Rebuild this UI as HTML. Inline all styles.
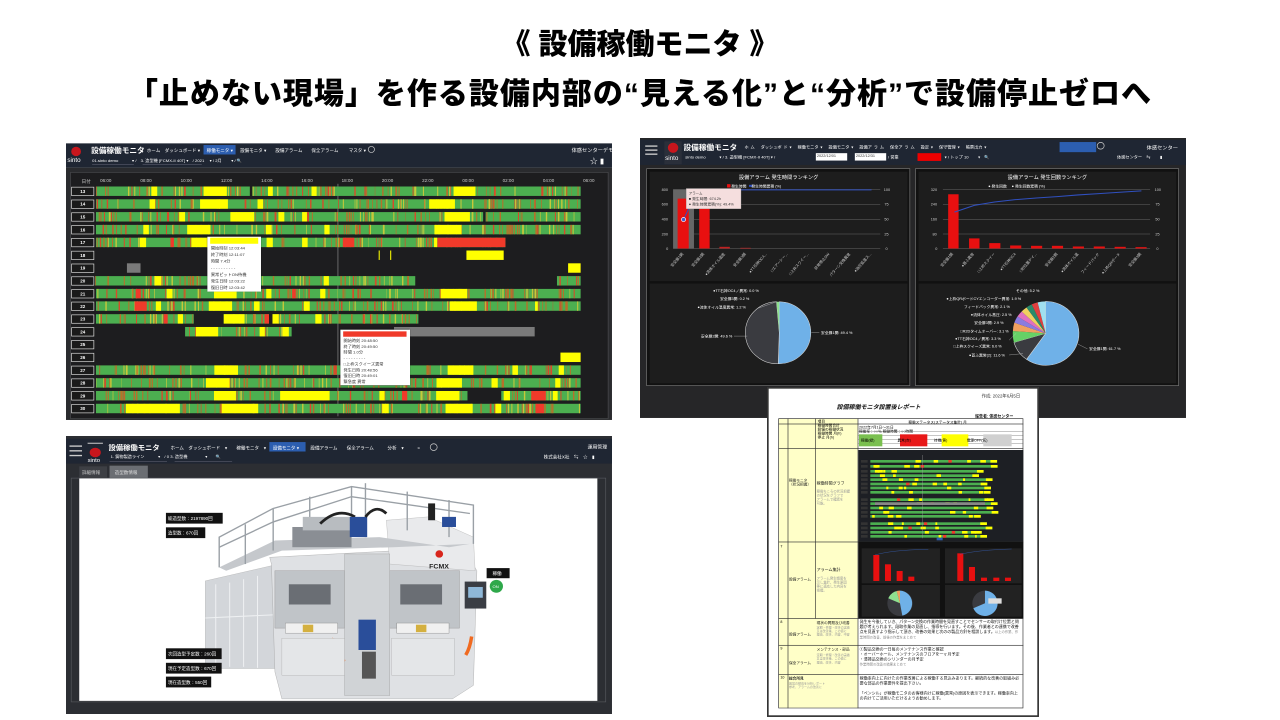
<!DOCTYPE html>
<html><head><meta charset="utf-8">
<style>
*{margin:0;padding:0;box-sizing:border-box}
body{width:1280px;height:720px;background:#fff;position:relative;overflow:hidden;font-family:"Liberation Sans","Noto Sans CJK JP",sans-serif}
.t{position:absolute;left:0;width:1280px;text-align:center;font-weight:900;color:#000;font-family:"Liberation Sans","Noto Sans CJK JP",sans-serif}
.pan{position:absolute;overflow:hidden}
.inner{position:absolute;left:0;top:0;transform-origin:0 0}
.a{position:absolute}
.w{color:#fff;white-space:nowrap}
</style></head><body>
<div class="t" style="top:27px;font-size:29px;line-height:36px">《 設備稼働モニタ 》</div>
<div class="t" style="top:76px;font-size:30px;line-height:38px;letter-spacing:1px">「止めない現場」を作る設備内部の“見える化”と“分析”で設備停止ゼロへ</div>

<!-- Panel 1 -->
<div class="pan" style="left:66px;top:140px;width:546px;height:280px">
<div class="inner" id="p1" style="width:1568px;height:831px;transform:scale(0.3482,0.3369)">
 <div class="a" style="left:0;top:10px;width:1568px;height:72px;background:#1f2633"></div>
 <div class="a" style="left:15px;top:20px;width:28px;height:28px;border-radius:50%;background:#c8161d"></div>
 <div class="a w" style="left:4px;top:50px;font-size:18px">sinto</div>
 <div class="a w" style="left:72px;top:14px;font-size:22px;font-weight:bold">設備稼働モニタ</div>
 <div class="a w" style="left:232px;top:20px;font-size:13px">ホーム　ダッシュボード ▾</div>
 <div class="a" style="left:395px;top:15px;width:92px;height:28px;background:#2c5eb0"></div>
 <div class="a w" style="left:404px;top:20px;font-size:13px">稼働モニタ ▾</div>
 <div class="a w" style="left:500px;top:20px;font-size:13px">設備モニタ ▾　　設備アラーム　　保全アラーム　　 マスタ ▾</div>
 <div class="a" style="left:867px;top:18px;width:20px;height:20px;border:2px solid #ccc;border-radius:50%"></div>
 <div class="a w" style="left:1452px;top:20px;font-size:15px">体感センターデモ</div>
 <div class="a w" style="left:75px;top:52px;font-size:12px">01.sinto demo　　　 ▾ /　3. 造型機 [FCMX-II 40T] ▾　/ 2021　 ▾ / 2月　　 ▾ / 🔍</div>
 <div class="a" style="left:75px;top:72px;width:120px;height:1px;background:#889"></div>
 <div class="a" style="left:220px;top:72px;width:170px;height:1px;background:#889"></div>
 <div class="a w" style="left:1505px;top:45px;font-size:22px">☆ ▮</div>
 <div class="a" style="left:0;top:82px;width:1568px;height:749px;background:#2a2b2e"></div>
 <div class="a" style="left:12px;top:95px;width:1546px;height:733px;background:#1d1d1f;border:2px solid #4a4b4e"></div>
 <div class="a" style="left:780px;top:130px;width:2px;height:690px;background:#888"></div>
</div></div>

<!-- Panel 2 -->
<div class="pan" style="left:640px;top:138px;width:546px;height:280px">
<div class="inner" style="width:1568px;height:831px;transform:scale(0.3482,0.3369)">
 <div class="a" style="left:0;top:0;width:1568px;height:831px;background:#262628"></div>
 <div class="a" style="left:0;top:5px;width:1568px;height:75px;background:#1f2633"></div>
 <div class="a" style="left:15px;top:22px;width:35px;height:4px;background:#ccc;box-shadow:0 12px 0 #ccc,0 24px 0 #ccc"></div>
 <div class="a" style="left:70px;top:10px;width:50px;height:68px;background:#2a2f3a"></div>
 <div class="a" style="left:80px;top:14px;width:30px;height:30px;border-radius:50%;background:#c8161d"></div>
 <div class="a w" style="left:72px;top:50px;font-size:18px">sinto</div>
 <div class="a w" style="left:125px;top:10px;font-size:22px;font-weight:bold">設備稼働モニタ</div>
 <div class="a w" style="left:300px;top:18px;font-size:12px;word-spacing:2px">ホ ム　 ダッシュボ ド ▾　 稼働モニタ ▾　 設備モニタ ▾　 設備ア ラ ム　 保全ア ラ ム　 設定 ▾　 保守管理 ▾　 帳票出力 ▾</div>
 <div class="a" style="left:1205px;top:12px;width:105px;height:30px;background:#2c5eb0"></div>
 <div class="a" style="left:1312px;top:12px;width:22px;height:22px;border:2px solid #ccc;border-radius:50%"></div>
 <div class="a w" style="left:1455px;top:18px;font-size:15px">体感センター</div>
 <div class="a w" style="left:130px;top:48px;font-size:12px">sinto demo　　　 ▾ / 3. 造型機 [FCMX-II 40T] ▾ /</div>
 <div class="a" style="left:505px;top:45px;width:90px;height:22px;background:#fff;font-size:11px;color:#333;padding:3px">2022/12/01</div>
 <div class="a" style="left:617px;top:45px;width:90px;height:22px;background:#fff;font-size:11px;color:#333;padding:3px">2022/12/31</div>
 <div class="a w" style="left:712px;top:48px;font-size:12px">/ 営業</div>
 <div class="a" style="left:797px;top:45px;width:68px;height:23px;background:#e00"></div>
 <div class="a w" style="left:875px;top:48px;font-size:12px">▾ / トップ 10　　 ▾　🔍</div>
 <div class="a w" style="left:1370px;top:48px;font-size:12px">体感センター　⇆　　 ▮</div>
 <div class="a" style="left:18px;top:90px;width:758px;height:646px;border:2px solid #777;background:#111"></div>
 <div class="a" style="left:790px;top:90px;width:758px;height:646px;border:2px solid #777;background:#111"></div>
 <div class="a" style="left:28px;top:100px;width:740px;height:325px;background:#1d1d1d"></div>
 <div class="a" style="left:800px;top:100px;width:740px;height:325px;background:#1d1d1d"></div>
 <div class="a" style="left:28px;top:432px;width:740px;height:296px;background:#1d1d1d"></div>
 <div class="a" style="left:800px;top:432px;width:740px;height:296px;background:#1d1d1d"></div>
 <div class="a w" style="left:28px;width:740px;text-align:center;top:106px;font-size:15px">設備アラーム 発生時間ランキング</div>
 <div class="a w" style="left:800px;width:740px;text-align:center;top:106px;font-size:15px">設備アラーム 発生回数ランキング</div>
 <svg class="a" style="left:0;top:0" width="1568" height="831">
  <g stroke="#666" stroke-width="1.5">
   <line x1="95" y1="153" x2="690" y2="153"/><line x1="95" y1="197" x2="690" y2="197"/><line x1="95" y1="241" x2="690" y2="241"/><line x1="95" y1="285" x2="690" y2="285"/><line x1="95" y1="328" x2="690" y2="328"/>
   <line x1="870" y1="153" x2="1465" y2="153"/><line x1="870" y1="197" x2="1465" y2="197"/><line x1="870" y1="241" x2="1465" y2="241"/><line x1="870" y1="285" x2="1465" y2="285"/><line x1="870" y1="328" x2="1465" y2="328"/>
  </g>
  <rect x="95" y="153" width="60" height="175" fill="#666"/>
  <rect x="108" y="180" width="32" height="148" fill="#e81010"/>
  <rect x="170" y="200" width="30" height="128" fill="#e81010"/>
  <rect x="228" y="323" width="30" height="5" fill="#c02020"/>
  <rect x="288" y="326" width="30" height="2" fill="#c02020"/>
  <polyline points="125,242 165,155 240,154 665,154" fill="none" stroke="#3050c0" stroke-width="3"/>
  <circle cx="125" cy="242" r="6" fill="#3b5bd0" stroke="#fff" stroke-width="2"/>
  <rect x="133" y="150" width="157" height="60" fill="#f5dede" stroke="#aaa"/>
  <text x="140" y="168" font-size="10" fill="#333">アラーム</text>
  <text x="140" y="184" font-size="11" fill="#333">■ 発生時間: 674.2h</text>
  <text x="140" y="200" font-size="11" fill="#333">● 発生時間累積(%): 49.4%</text>
  <rect x="250" y="137" width="10" height="10" fill="#e81010"/><rect x="313" y="139" width="10" height="6" fill="#3050c0"/>
  <text x="262" y="147" font-size="11" fill="#fff">発生時間　 発生時間累積 (%)</text>
  <rect x="885" y="167" width="30" height="161" fill="#e81010"/>
  <rect x="945" y="298" width="30" height="30" fill="#e81010"/>
  <rect x="1003" y="312" width="32" height="16" fill="#e81010"/>
  <rect x="1063" y="319" width="32" height="9" fill="#e81010"/>
  <rect x="1123" y="320" width="32" height="8" fill="#e81010"/>
  <rect x="1183" y="320" width="32" height="8" fill="#e81010"/>
  <rect x="1243" y="322" width="32" height="6" fill="#e81010"/>
  <rect x="1303" y="322" width="32" height="6" fill="#e81010"/>
  <rect x="1363" y="323" width="32" height="5" fill="#e81010"/>
  <rect x="1423" y="324" width="32" height="4" fill="#e81010"/>
  <polyline points="903,220 960,200 1018,190 1078,183 1138,178 1198,174 1258,169 1318,165 1378,161 1440,157" fill="none" stroke="#3050c0" stroke-width="3"/>
  <text x="1000" y="147" font-size="11" fill="#fff">● 発生回数　 ● 発生回数累積 (%)</text>
  <g font-size="11" fill="#ccc">
   <text x="62" y="157">800</text><text x="62" y="201">600</text><text x="62" y="245">400</text><text x="62" y="289">200</text><text x="75" y="332">0</text>
   <text x="700" y="157">100</text><text x="702" y="201">75</text><text x="702" y="245">50</text><text x="702" y="289">25</text><text x="705" y="332">0</text>
   <text x="835" y="157">320</text><text x="835" y="201">240</text><text x="835" y="245">160</text><text x="840" y="289">80</text><text x="848" y="332">0</text>
   <text x="1478" y="157">100</text><text x="1480" y="201">75</text><text x="1480" y="245">50</text><text x="1480" y="289">25</text><text x="1483" y="332">0</text>
  </g>
  <g font-size="11" fill="#ccc">
   <text transform="translate(125,345) rotate(-50)" text-anchor="end">安全扉1開</text>
   <text transform="translate(185,345) rotate(-50)" text-anchor="end">安全扉2開</text>
   <text transform="translate(245,345) rotate(-50)" text-anchor="end">●流体オイル温度</text>
   <text transform="translate(305,345) rotate(-50)" text-anchor="end">安全扉3開</text>
   <text transform="translate(365,345) rotate(-50)" text-anchor="end">●TT石神OC4...</text>
   <text transform="translate(425,345) rotate(-50)" text-anchor="end">□エアーシー...</text>
   <text transform="translate(485,345) rotate(-50)" text-anchor="end">□上枠スクイー...</text>
   <text transform="translate(545,345) rotate(-50)" text-anchor="end">非常停止SW</text>
   <text transform="translate(605,345) rotate(-50)" text-anchor="end">パターン交換異常</text>
   <text transform="translate(665,345) rotate(-50)" text-anchor="end">●油圧低温ス...</text>
   <text transform="translate(900,345) rotate(-50)" text-anchor="end">安全扉1開</text>
   <text transform="translate(960,345) rotate(-50)" text-anchor="end">●首ふ異常</text>
   <text transform="translate(1020,345) rotate(-50)" text-anchor="end">□上枠スクイー</text>
   <text transform="translate(1080,345) rotate(-50)" text-anchor="end">●TT石神OC4</text>
   <text transform="translate(1140,345) rotate(-50)" text-anchor="end">□砂位置ゲイ...</text>
   <text transform="translate(1200,345) rotate(-50)" text-anchor="end">安全扉2開</text>
   <text transform="translate(1260,345) rotate(-50)" text-anchor="end">●流体オイル温</text>
   <text transform="translate(1320,345) rotate(-50)" text-anchor="end">フィードバック</text>
   <text transform="translate(1380,345) rotate(-50)" text-anchor="end">●上枠QRボード</text>
   <text transform="translate(1440,345) rotate(-50)" text-anchor="end">安全扉3開</text>
  </g>
  <path d="M400,578 L400,486 A92,92 0 1,1 397,670 Z" fill="#6fb1e8" stroke="#ddd" stroke-width="1.5"/>
  <path d="M400,578 L397,670 A92,92 0 0,1 392,486 Z" fill="#3a3b40" stroke="#ddd" stroke-width="1.5"/>
  <path d="M400,578 L392,486 A92,92 0 0,1 400,486 Z" fill="#8fe08f"/>
  <g font-size="11" fill="#fff">
   <text x="520" y="582">安全扉1開: 49.4 %</text><text x="175" y="592">安全扉2開: 49.6 %</text>
   <text x="210" y="457">●TT石神OC4ノ異常: 0.0 %</text><text x="230" y="481">安全扉3開: 0.2 %</text><text x="165" y="506">●流体オイル温度異常: 1.2 %</text>
  </g>
  <g stroke="#ccc" fill="none"><line x1="492" y1="578" x2="515" y2="578"/><line x1="270" y1="588" x2="308" y2="588"/><line x1="340" y1="505" x2="392" y2="486"/></g>
  <path d="M1165,580 L1165,485 A95,95 0 1,1 1110,657 Z" fill="#6fb1e8" stroke="#ddd" stroke-width="1.5"/>
  <path d="M1165,580 L1110,657 A95,95 0 0,1 1074,607 Z" fill="#3a3b40" stroke="#ddd" stroke-width="1.5"/>
  <path d="M1165,580 L1074,607 A95,95 0 0,1 1071,573 Z" fill="#66d166"/>
  <path d="M1165,580 L1071,573 A95,95 0 0,1 1075,548 Z" fill="#f0a060"/>
  <path d="M1165,580 L1075,548 A95,95 0 0,1 1084,530 Z" fill="#8a7ce0"/>
  <path d="M1165,580 L1084,530 A95,95 0 0,1 1096,515 Z" fill="#e070c0"/>
  <path d="M1165,580 L1096,515 A95,95 0 0,1 1110,503 Z" fill="#f0d060"/>
  <path d="M1165,580 L1110,503 A95,95 0 0,1 1125,494 Z" fill="#2a8a6a"/>
  <path d="M1165,580 L1125,494 A95,95 0 0,1 1142,488 Z" fill="#e04040"/>
  <path d="M1165,580 L1142,488 A95,95 0 0,1 1165,485 Z" fill="#a0e0f0"/>
  <g font-size="11" fill="#fff">
   <text x="1290" y="630">安全扉1開: 61.7 %</text><text x="945" y="648">●首ふ異常(2): 11.6 %</text><text x="900" y="622">□上枠スクイーズ異常: 6.0 %</text>
   <text x="905" y="600">●TT石神OC4ノ異常: 3.3 %</text><text x="920" y="578">□R2Dタイムオーバー: 3.1 %</text><text x="960" y="552">安全扉3開: 2.9 %</text>
   <text x="950" y="528">●流体オイル高圧: 2.5 %</text><text x="930" y="505">フィードバック異常: 2.1 %</text><text x="880" y="481">●上枠QRボードCYエンコーダー異常: 1.9 %</text><text x="1080" y="457">その他: 5.2 %</text>
  </g>
  <g stroke="#ccc"><line x1="1258" y1="612" x2="1285" y2="626"/><line x1="1060" y1="644" x2="1100" y2="640"/><line x1="1060" y1="600" x2="1080" y2="580"/></g>
 </svg>
</div></div>

<!-- Panel 3 -->
<div class="pan" style="left:66px;top:436px;width:546px;height:278px">
<div class="inner" style="width:1568px;height:825px;transform:scale(0.3482,0.3370)">
 <div class="a" style="left:0;top:0;width:1568px;height:825px;background:#2c2e33"></div>
 <div class="a" style="left:0;top:8px;width:1568px;height:74px;background:#1f2633"></div>
 <div class="a" style="left:10px;top:28px;width:36px;height:4px;background:#ccc;box-shadow:0 14px 0 #ccc,0 28px 0 #ccc"></div>
 <div class="a" style="left:62px;top:20px;width:44px;height:3px;background:#ccc"></div>
 <div class="a" style="left:68px;top:35px;width:32px;height:28px;border-radius:50%;background:#c8161d"></div>
 <div class="a w" style="left:62px;top:62px;font-size:17px">sinto</div>
 <div class="a w" style="left:122px;top:18px;font-size:21px;font-weight:bold">設備稼働モニタ</div>
 <div class="a w" style="left:300px;top:25px;font-size:13px;word-spacing:10px">ホーム　ダッシュボード ▾　 稼働モニタ ▾</div>
 <div class="a" style="left:584px;top:18px;width:104px;height:28px;background:#2c5eb0"></div>
 <div class="a w" style="left:594px;top:25px;font-size:13px">設備モニタ ▾</div>
 <div class="a w" style="left:702px;top:25px;font-size:13px;word-spacing:10px">設備アラーム　 保全アラーム　　 分析 ▾　　 »</div>
 <div class="a" style="left:1045px;top:22px;width:22px;height:22px;border:2px solid #ccc;border-radius:50%"></div>
 <div class="a w" style="left:1498px;top:22px;font-size:14px">運用管理</div>
 <div class="a w" style="left:128px;top:52px;font-size:12px">1. 鋳物製造ライン　　　 ▾　/ 0 3. 造型機　　　　 ▾　　🔍</div>
 <div class="a" style="left:125px;top:76px;width:165px;height:1px;background:#889"></div>
 <div class="a" style="left:312px;top:76px;width:165px;height:1px;background:#889"></div>
 <div class="a w" style="left:1372px;top:52px;font-size:13px">株式会社X社　⇆　☆　▮</div>
 <div class="a" style="left:38px;top:90px;width:80px;height:33px;background:#3d3f44"></div>
 <div class="a w" style="left:46px;top:98px;font-size:13px;color:#ccc">詳細情報</div>
 <div class="a" style="left:125px;top:88px;width:110px;height:37px;background:#6b6e73"></div>
 <div class="a w" style="left:140px;top:98px;font-size:13px;color:#ddd">造型数情報</div>
 <div class="a" style="left:14px;top:124px;width:1537px;height:666px;border:2px solid #55575c"></div>
 <div class="a" style="left:38px;top:126px;width:1488px;height:660px;background:#fff"></div>
 <svg class="a" style="left:0;top:0" width="1568" height="825">
  <polygon points="400,430 590,385 610,385 610,690 420,690 400,680" fill="#d3d6da" stroke="#aaa"/>
  <g stroke="#eef0f2" stroke-width="3"><line x1="430" y1="440" x2="430" y2="680"/><line x1="470" y1="435" x2="470" y2="685"/><line x1="510" y1="425" x2="510" y2="685"/><line x1="550" y1="415" x2="550" y2="688"/><line x1="400" y1="540" x2="610" y2="530"/></g>
  <polygon points="585,360 1140,330 1180,400 1170,740 1110,780 620,780 600,700 590,380" fill="#dfe1e4" stroke="#999"/>
  <polygon points="920,250 1040,240 1170,300 1175,400 930,380" fill="#e9eaec" stroke="#aaa"/>
  <polygon points="440,390 600,310 900,300 1100,330 1160,320 940,330 620,340 460,400" fill="#c5c8cc"/>
  <g stroke="#9aa0a6" stroke-width="4" fill="none">
   <polyline points="440,390 440,300 595,215 820,150 1170,205 1170,320"/>
   <polyline points="440,330 595,255 820,180 1160,230"/>
   <line x1="515" y1="262" x2="515" y2="380"/><line x1="595" y1="215" x2="595" y2="340"/><line x1="700" y1="180" x2="700" y2="320"/><line x1="820" y1="150" x2="820" y2="300"/><line x1="860" y1="140" x2="860" y2="300"/><line x1="980" y1="165" x2="980" y2="280"/><line x1="1100" y1="190" x2="1100" y2="300"/>
  </g>
  <rect x="650" y="270" width="170" height="60" fill="#8a8e94"/>
  <rect x="680" y="240" width="150" height="40" fill="#b8bcc0"/>
  <path d="M730,260 Q780,210 830,240" stroke="#222" stroke-width="8" fill="none"/>
  <rect x="815" y="240" width="50" height="60" fill="#2a4e9a"/>
  <path d="M860,240 Q890,200 920,230" stroke="#222" stroke-width="8" fill="none"/>
  <rect x="1040" y="200" width="20" height="50" fill="#222"/>
  <rect x="1080" y="240" width="40" height="30" fill="#2a4e9a"/>
  <rect x="600" y="400" width="200" height="170" fill="#c0c4c8" stroke="#888"/>
  <rect x="930" y="400" width="200" height="170" fill="#c0c4c8" stroke="#888"/>
  <rect x="640" y="440" width="120" height="60" fill="#6a6e74"/>
  <rect x="960" y="440" width="120" height="60" fill="#6a6e74"/>
  <rect x="630" y="555" width="150" height="30" fill="#f0f0f0" stroke="#777"/>
  <rect x="950" y="555" width="150" height="30" fill="#f0f0f0" stroke="#777"/>
  <rect x="680" y="560" width="30" height="22" fill="#d4b040"/><rect x="1005" y="560" width="30" height="22" fill="#d4b040"/>
  <rect x="800" y="350" width="130" height="420" fill="#d0d3d6" stroke="#999"/>
  <rect x="840" y="545" width="50" height="90" fill="#2a4e9a"/>
  <rect x="850" y="640" width="40" height="80" fill="#555"/>
  <path d="M770,600 Q760,650 800,670" stroke="#f06a20" stroke-width="12" fill="none"/>
  <path d="M1165,595 Q1160,630 1148,650" stroke="#f06a20" stroke-width="10" fill="none"/>
  <rect x="1145" y="432" width="62" height="80" fill="#3a3d44"/>
  <rect x="1155" y="448" width="42" height="32" fill="#8fb8d8"/>
  <rect x="620" y="600" width="180" height="110" fill="#e4e6e8" stroke="#aaa"/>
  <rect x="935" y="600" width="180" height="110" fill="#e4e6e8" stroke="#aaa"/>
  <circle cx="1072" cy="350" r="11" fill="#d8261c"/>
  <text x="1043" y="393" font-size="20" font-weight="bold" fill="#222">FCMX</text>
  <rect x="1208" y="392" width="66" height="30" fill="#111"/>
  <text x="1225" y="413" font-size="13" fill="#fff">稼働</text>
  <circle cx="1236" cy="446" r="19" fill="#2ea84a"/>
  <text x="1225" y="451" font-size="12" fill="#fff">ON</text>
  <g font-size="13" fill="#fff">
   <rect x="287" y="228" width="163" height="32" fill="#111"/><text x="293" y="250">総造型数：2197890回</text>
   <rect x="287" y="271" width="113" height="32" fill="#111"/><text x="293" y="293">造型数：670回</text>
   <rect x="287" y="630" width="160" height="32" fill="#111"/><text x="293" y="652">次回造型予定数：260回</text>
   <rect x="287" y="673" width="160" height="32" fill="#111"/><text x="293" y="695">現在予定造型数：670回</text>
   <rect x="287" y="714" width="130" height="32" fill="#111"/><text x="293" y="736">現在造型数：550回</text>
  </g>
 </svg>
</div></div>

<!-- Panel 4 report -->
<div class="pan" style="left:765px;top:385px;width:276px;height:334px">
<div class="inner" style="width:828px;height:1002px;transform:scale(0.3333)">
 <div class="a" style="left:6px;top:6px;width:816px;height:990px;background:#fff;border:5px solid #333"></div>
 <div class="a" style="left:650px;top:22px;font-size:13px;color:#333">作成: 2022年6月5日</div>
 <div class="a" style="left:215px;top:52px;font-size:18px;font-weight:bold;font-style:italic;color:#111">設備稼働モニタ設置後レポート</div>
 <div class="a" style="left:630px;top:85px;font-size:12px;font-weight:bold;color:#111">報告者: 体感センター</div>
 <div class="a" style="left:40px;top:100px;width:735px;height:870px;border:2px solid #333"></div>
 <div class="a" style="left:42px;top:102px;width:236px;height:866px;background:#ffffc8"></div>
 <div class="a" style="left:68px;top:100px;width:2px;height:870px;background:#333"></div>
 <div class="a" style="left:150px;top:100px;width:2px;height:600px;background:#333"></div>
 <div class="a" style="left:278px;top:100px;width:2px;height:870px;background:#333"></div>
 <div class="a" style="left:40px;top:116px;width:735px;height:2px;background:#333"></div>
 <div class="a" style="left:40px;top:190px;width:735px;height:2px;background:#333"></div>
 <div class="a" style="left:40px;top:470px;width:735px;height:2px;background:#333"></div>
 <div class="a" style="left:40px;top:700px;width:735px;height:2px;background:#333"></div>
 <div class="a" style="left:40px;top:780px;width:735px;height:2px;background:#333"></div>
 <div class="a" style="left:40px;top:868px;width:735px;height:2px;background:#333"></div>
 <div class="a" style="left:280px;top:140px;width:495px;height:1px;background:#555;box-shadow:0 12px 0 #555,0 24px 0 #555,0 36px 0 #555"></div>
 <div class="a" style="left:282px;top:148px;width:70px;height:36px;background:#7ac050"></div>
 <div class="a" style="left:405px;top:148px;width:82px;height:36px;background:#e81818"></div>
 <div class="a" style="left:530px;top:148px;width:80px;height:36px;background:#ffff00"></div>
 <div class="a" style="left:655px;top:148px;width:85px;height:36px;background:#d0d0d0"></div>
 <div class="a" style="left:288px;top:158px;font-size:11px">稼働(緑)　　　　　　 異常(赤)　　　　　　 待機(黄)　　　　　 電源OFF(灰)</div>
 <div class="a" style="left:158px;top:104px;font-size:11px;line-height:12px">項目<br>稼働時間合計<br>設備の稼働状況<br>稼働時間 月(h)<br>停止 月(h)</div>
 <div class="a" style="left:430px;top:104px;font-size:11px">稼働ステータス(ステータス集計) 月</div>
 <div class="a" style="left:282px;top:121px;font-size:11px;line-height:12px">2022年7月1日〜31日<br>稼働率：○○％ 稼働時間：○○時間</div>
 <div class="a" style="left:280px;top:195px;width:495px;height:275px;background:#1d1f24"></div>
 <div class="a" style="left:280px;top:470px;width:495px;height:230px;background:#111"></div>
 <div class="a" style="left:290px;top:490px;width:235px;height:105px;background:#222"></div>
 <div class="a" style="left:540px;top:490px;width:230px;height:105px;background:#222"></div>
 <div class="a" style="left:290px;top:600px;width:235px;height:95px;background:#222"></div>
 <div class="a" style="left:540px;top:600px;width:230px;height:95px;background:#222"></div>
 <svg class="a" style="left:0;top:0" width="828" height="1002">
  <rect x="325" y="510" width="18" height="78" fill="#e81010"/><rect x="360" y="538" width="18" height="50" fill="#e81010"/><rect x="395" y="558" width="18" height="30" fill="#e81010"/><rect x="430" y="575" width="18" height="13" fill="#e81010"/>
  <rect x="577" y="505" width="18" height="83" fill="#e81010"/><rect x="612" y="546" width="18" height="42" fill="#e81010"/><rect x="648" y="578" width="18" height="10" fill="#e81010"/><rect x="685" y="578" width="18" height="10" fill="#e81010"/><rect x="720" y="578" width="18" height="10" fill="#e81010"/>
  <path d="M330,510 Q380,495 490,493" stroke="#3a6ad0" fill="none"/><path d="M585,508 Q640,495 740,492" stroke="#3a6ad0" fill="none"/>
  <circle cx="405" cy="655" r="38" fill="#3a3b40"/>
  <path d="M405,655 L405,617 A38,38 0 0,1 412,692 Z" fill="#6fb1e8"/>
  <path d="M405,655 L370,640 A38,38 0 0,1 395,618 Z" fill="#8fe08f"/>
  <path d="M405,655 L395,618 A38,38 0 0,1 405,617 Z" fill="#f0a060"/>
  <circle cx="660" cy="655" r="38" fill="#3a3b40"/>
  <path d="M660,655 L660,617 A38,38 0 1,1 625,670 Z" fill="#6fb1e8"/>
  <rect x="670" y="640" width="40" height="16" fill="#ddd"/>
  <g id="mg"></g>
 </svg>
 <div class="a" style="left:155px;top:285px;font-size:12px;color:#222">稼働時間グラフ</div>
 <div class="a" style="left:72px;top:280px;font-size:11px;line-height:13px;color:#222">稼働モニタ<br>（状況把握）</div>
 <div class="a" style="left:155px;top:315px;font-size:10px;line-height:12px;color:#999">稼働ちころの状況把握<br>の状況をグラフで<br>アラームで確認を<br>可能。</div>
 <div class="a" style="left:155px;top:545px;font-size:12px;color:#222">アラーム集計</div>
 <div class="a" style="left:72px;top:575px;font-size:11px;color:#222">設備アラーム</div>
 <div class="a" style="left:155px;top:575px;font-size:10px;line-height:12px;color:#999">アラーム発生頻度を<br>示し集計、発生原因<br>等に適応した内容を<br>把握。</div>
 <div class="a" style="left:46px;top:478px;font-size:11px">7</div>
 <div class="a" style="left:46px;top:705px;font-size:11px">8</div>
 <div class="a" style="left:46px;top:785px;font-size:11px">9</div>
 <div class="a" style="left:46px;top:872px;font-size:11px">10</div>
 <div class="a" style="left:155px;top:705px;font-size:11px;color:#222">現状の問題及び改善</div>
 <div class="a" style="left:72px;top:740px;font-size:11px;color:#222">設備アラーム</div>
 <div class="a" style="left:155px;top:722px;font-size:9px;line-height:11px;color:#999">定期・修理・改善の実績<br>又は改善策、この値に<br>理由、改善、内容、中容</div>
 <div class="a" style="left:155px;top:785px;font-size:11px;color:#222">メンテナンス・部品</div>
 <div class="a" style="left:72px;top:825px;font-size:11px;color:#222">保全アラーム</div>
 <div class="a" style="left:155px;top:805px;font-size:9px;line-height:11px;color:#999">定期・修理・改善の実績<br>又は改善策、この値に<br>理由、改善、内容</div>
 <div class="a" style="left:72px;top:872px;font-size:11px;font-weight:bold;color:#222">総合所見</div>
 <div class="a" style="left:72px;top:890px;font-size:9px;line-height:11px;color:#999">異常の傾向を分析レポート<br>参考、アラームの改善に</div>
 <div class="a" style="left:284px;top:703px;width:485px;font-size:12px;line-height:15px;color:#111">発生を今後していき、パターン交換の作業時間を見直すことでセンサーの取付け位置と問題が考えられます。段取作業の見直し、指導を行います。その後、作業者との連携で改善点を見直すよう指示して頂き、改善の効果と次のの製品方針を相談します。<span style="color:#888;font-size:10px">以上の作業、作業時間の改善、前後の作業をまとめて</span></div>
 <div class="a" style="left:284px;top:785px;width:485px;font-size:12px;line-height:15px;color:#111">①製品交換の一日毎のメンテナンス作業と確認<br>・オーバーホール、メンテナンスのフロアを一ヶ月予定<br>・清掃品交換のシリンダーの月予定<br><span style="color:#888;font-size:10px">作業時間の改善の結果まとめて</span></div>
 <div class="a" style="left:284px;top:872px;width:485px;font-size:12px;line-height:15px;color:#111">稼働率向上に向けたの作業改善による稼働する見込みあります。継続的な改善の取組み必要な部品の作業要件を提出下さい。<br><br>「ペンシル」が稼働モニタのお客様向けに稼働(異常)の原因を表示できます。稼働率向上の向けてご活用いただけるようお勧めします。</div>
</div></div>

<script>
var s=7;function rnd(){s=(s*16807)%2147483647;return s/2147483647;}
var rows=[
{n:13,g:[[86,528],[535,1478]],y:[[395,462],[1113,1176],[245,262],[580,594],[705,720]],r:[]},
{n:14,g:[[86,1478]],y:[[385,465],[1043,1117],[240,256],[550,566]],r:[]},
{n:15,g:[[86,1198],[1205,1478]],y:[[472,540],[1087,1160],[325,342],[610,627],[678,692]],r:[]},
{n:16,g:[[86,1478]],y:[[348,415],[1058,1136],[222,238],[574,590],[742,757]],r:[]},
{n:17,g:[[86,1262]],y:[[360,410],[576,594],[678,694],[1057,1066],[212,230]],r:[[795,828],[1067,1262],[300,310]]},
{n:18,g:[],y:[[1150,1257],[898,901],[931,934]],r:[]},
{n:19,g:[],y:[[1442,1478]],r:[],x:[[175,214]]},
{n:20,g:[[84,1003],[1410,1478]],y:[[255,273],[740,755],[430,490]],r:[]},
{n:21,g:[[86,1478]],y:[[290,306],[1076,1152],[730,745],[575,590],[425,490]],r:[[200,215],[650,660]]},
{n:22,g:[[86,1478]],y:[[258,273],[410,477],[540,556],[683,700],[1102,1180],[1347,1355]],r:[[197,232]]},
{n:23,g:[[86,367],[453,583],[593,1012]],y:[[321,336],[453,513],[593,611],[716,734]],r:[[280,292],[570,583]]},
{n:24,g:[[342,648]],y:[[373,437],[556,571],[622,640]],r:[],x:[[942,1346]]},
{n:25,g:[],y:[],r:[]},
{n:26,g:[],y:[[1420,1478]],r:[]},
{n:27,g:[[86,1478]],y:[[426,494],[1096,1170],[1282,1298],[1415,1430]],r:[]},
{n:28,g:[[86,1478]],y:[[402,470],[1064,1137],[1222,1240],[1405,1420]],r:[]},
{n:29,g:[[86,1153],[1250,1478]],y:[[425,488],[615,757],[900,915],[1063,1130],[1257,1275],[1398,1412]],r:[[965,980],[1336,1378]]},
{n:30,g:[[86,1478]],y:[[172,327],[447,552],[908,927],[1090,1168],[1233,1250]],r:[[1350,1373]]}];
var p1=document.getElementById('p1'),h='';
var times=['06:00','08:00','10:00','12:00','14:00','16:00','18:00','20:00','22:00','00:00','02:00','04:00','06:00'];
h+='<div class="a" style="left:45px;top:112px;font-size:13px;color:#ccc">日付</div>';
for(var i=0;i<13;i++)h+='<div class="a" style="left:'+(98+i*115.6)+'px;top:112px;font-size:13px;color:#ccc">'+times[i]+'</div>';
function bar(x1,x2,y,c,hh){return '<div class="a" style="left:'+x1+'px;top:'+y+'px;width:'+(x2-x1)+'px;height:'+hh+'px;background:'+c+'"></div>';}
rows.forEach(function(r,i){
 var cy=152+i*37.94,top=cy-14;
 h+='<div class="a" style="left:15px;top:'+(cy-13)+'px;width:66px;height:27px;border:2px solid #ddd;background:#1a1a1a;color:#fff;font-size:13px;font-weight:bold;text-align:center;line-height:23px">'+r.n+'</div>';
 r.g.forEach(function(g){h+=bar(g[0],g[1],top,'#4caf50',28);
  var n=Math.floor((g[1]-g[0])/14);
  for(var k=0;k<n;k++){var x=g[0]+rnd()*(g[1]-g[0]-3);var q=rnd();var c=q<0.5?'#b8702a':(q<0.8?'#c8c83a':'#d84a2a');h+=bar(x,x+1.5+rnd()*3,top,c,28);}
 });
 (r.x||[]).forEach(function(g){h+=bar(g[0],g[1],top,'#7a7a7a',28);});
 r.y.forEach(function(g){h+=bar(g[0],g[1],top,'#ffff00',28);});
 r.r.forEach(function(g){h+=bar(g[0],g[1],top,'#f03a2a',28);});
});
h+='<div class="a" style="left:406px;top:287px;width:154px;height:163px;background:#fff;box-shadow:0 0 4px #000"></div>';
h+='<div class="a" style="left:414px;top:290px;width:138px;height:18px;background:#ffff00"></div>';
h+='<div class="a" style="left:416px;top:312px;font-size:12px;line-height:19.5px;color:#333;white-space:nowrap">開始時刻 12:03:44<br>終了時刻 12:11:07<br>時間 7.4分<br>- - - - - - - - - -<br>異常ピットON待機<br>発生日時 12:03:22<br>復旧日時 12:03:42</div>';
h+='<div class="a" style="left:788px;top:563px;width:200px;height:165px;background:#fff;box-shadow:0 0 4px #000"></div>';
h+='<div class="a" style="left:796px;top:568px;width:182px;height:16px;background:#f03a2a"></div>';
h+='<div class="a" style="left:797px;top:587px;font-size:12px;line-height:17.5px;color:#333;white-space:nowrap">開始時刻 20:48:50<br>終了時刻 20:49:50<br>時間 1.0分<br>- - - - - - - - -<br>□上枠スクイーズ異常<br>発生日時 20:48:56<br>復旧日時 20:49:01<br>緊急度 異常</div>';
p1.insertAdjacentHTML('beforeend',h);
var mg='',ys=[225,240,255,268,280,293,305,318,340,352,365,378,390,412,425,438,450];
ys.forEach(function(y,i){var x2=640+rnd()*60;mg+='<rect x="316" y="'+y+'" width="'+(x2-316)+'" height="8" fill="#4caf50"/>';
 for(var k=0;k<4;k++){var x=316+rnd()*(x2-330);mg+='<rect x="'+x+'" y="'+y+'" width="'+(5+rnd()*12)+'" height="8" fill="#ffff00"/>';}
 mg+='<rect x="'+(x2-20)+'" y="'+y+'" width="20" height="8" fill="#ffff00"/>';
 if(rnd()<0.3){var x=330+rnd()*300;mg+='<rect x="'+x+'" y="'+y+'" width="10" height="8" fill="#f03a2a"/>';}
 mg+='<rect x="288" y="'+y+'" width="20" height="8" fill="#333"/>';});
mg+='<rect x="330" y="352" width="330" height="8" fill="#888"/><line x1="472" y1="210" x2="472" y2="460" stroke="#aaa"/><rect x="515" y="458" width="18" height="8" fill="#2c5eb0"/>';
document.getElementById('mg').innerHTML=mg;
</script>
</body></html>
